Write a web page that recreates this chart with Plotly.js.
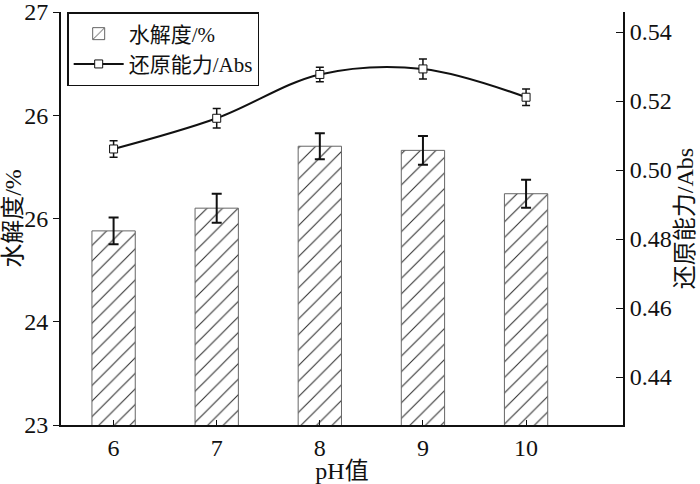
<!DOCTYPE html>
<html>
<head>
<meta charset="utf-8">
<script src="https://cdn.plot.ly/plotly-3.0.1.min.js"></script>
<style>html,body{margin:0;padding:0;background:#fff;}#chart{width:700px;height:484px;}</style>
</head>
<body>
<div id="chart"></div>
<script>
const phValues = [6, 7, 8, 9, 10];
const hydrolysis = [24.88, 25.10, 25.70, 25.66, 25.24];
const hydrolysisErr = [0.13, 0.14, 0.125, 0.14, 0.135];
const reducing = [0.5061, 0.5150, 0.5277, 0.5293, 0.5211];
const reducingErr = [0.0024, 0.0028, 0.0021, 0.0029, 0.0024];
const leftTickVals = [23, 24, 25, 26, 27];
const leftTickText = ['23', '24', '26', '26', '27'];
const rightTickVals = [0.44, 0.46, 0.48, 0.50, 0.52, 0.54];
const xTickText = ['6', '7', '8', '9', '10'];

const FONT = 'Liberation Serif, Times New Roman, Noto Sans CJK SC, serif';

const traces = [
  {
    type: 'bar', name: '水解度/%', x: phValues, y: hydrolysis, width: 0.42,
    marker: {color: '#ffffff', line: {color: '#666666', width: 1},
      pattern: {shape: '/', fgcolor: '#333333', bgcolor: '#ffffff', size: 11, solidity: 0.1}},
    error_y: {type: 'data', array: hydrolysisErr, visible: true, color: '#111111', thickness: 2, width: 5},
    yaxis: 'y'
  },
  {
    type: 'scatter', mode: 'lines+markers', name: '还原能力/Abs', x: phValues, y: reducing,
    line: {color: '#111111', width: 2, shape: 'spline', smoothing: 1},
    marker: {symbol: 'square', size: 8, color: '#ffffff', line: {color: '#111111', width: 1}},
    error_y: {type: 'data', array: reducingErr, visible: true, color: '#111111', thickness: 1.5, width: 4},
    yaxis: 'y2'
  }
];

const layout = {
  width: 700, height: 484,
  margin: {l: 61, r: 77, t: 12, b: 59},
  paper_bgcolor: '#ffffff', plot_bgcolor: '#ffffff',
  font: {family: FONT, size: 24, color: '#111111'},
  showlegend: true,
  legend: {x: 0.011, y: 1.0, xanchor: 'left', yanchor: 'top', bgcolor: '#ffffff',
    bordercolor: '#111111', borderwidth: 1.5, font: {family: FONT, size: 21}, tracegroupgap: 0,
    itemwidth: 50},
  xaxis: {
    range: [5.49, 10.94], tickvals: phValues, ticktext: xTickText,
    showline: true, linecolor: '#111111', linewidth: 2, ticks: 'inside', ticklen: 5,
    tickcolor: '#111111', showgrid: false, zeroline: false,
    title: {text: 'pH值', font: {family: FONT, size: 24}, standoff: 2}
  },
  yaxis: {
    range: [23, 27], tickvals: leftTickVals, ticktext: leftTickText, ticklabeloverflow: 'allow',
    showline: true, linecolor: '#111111', linewidth: 2, ticks: 'outside', ticklen: 6,
    tickcolor: '#111111', showgrid: false, zeroline: false,
    title: {text: '水解度/%', font: {family: FONT, size: 24}, standoff: 4}
  },
  yaxis2: {
    overlaying: 'y', side: 'right', range: [0.4261, 0.5458], tickvals: rightTickVals, tickformat: '.2f',
    ticklabeloverflow: 'allow',
    showline: true, linecolor: '#111111', linewidth: 2, ticks: 'inside', ticklen: 7,
    tickcolor: '#111111', showgrid: false, zeroline: false,
    title: {text: '还原能力/Abs', font: {family: FONT, size: 24}, standoff: 2}
  },
  bargap: 0
};

Plotly.newPlot('chart', traces, layout, {displayModeBar: false, staticPlot: true});
</script>
</body>
</html>
